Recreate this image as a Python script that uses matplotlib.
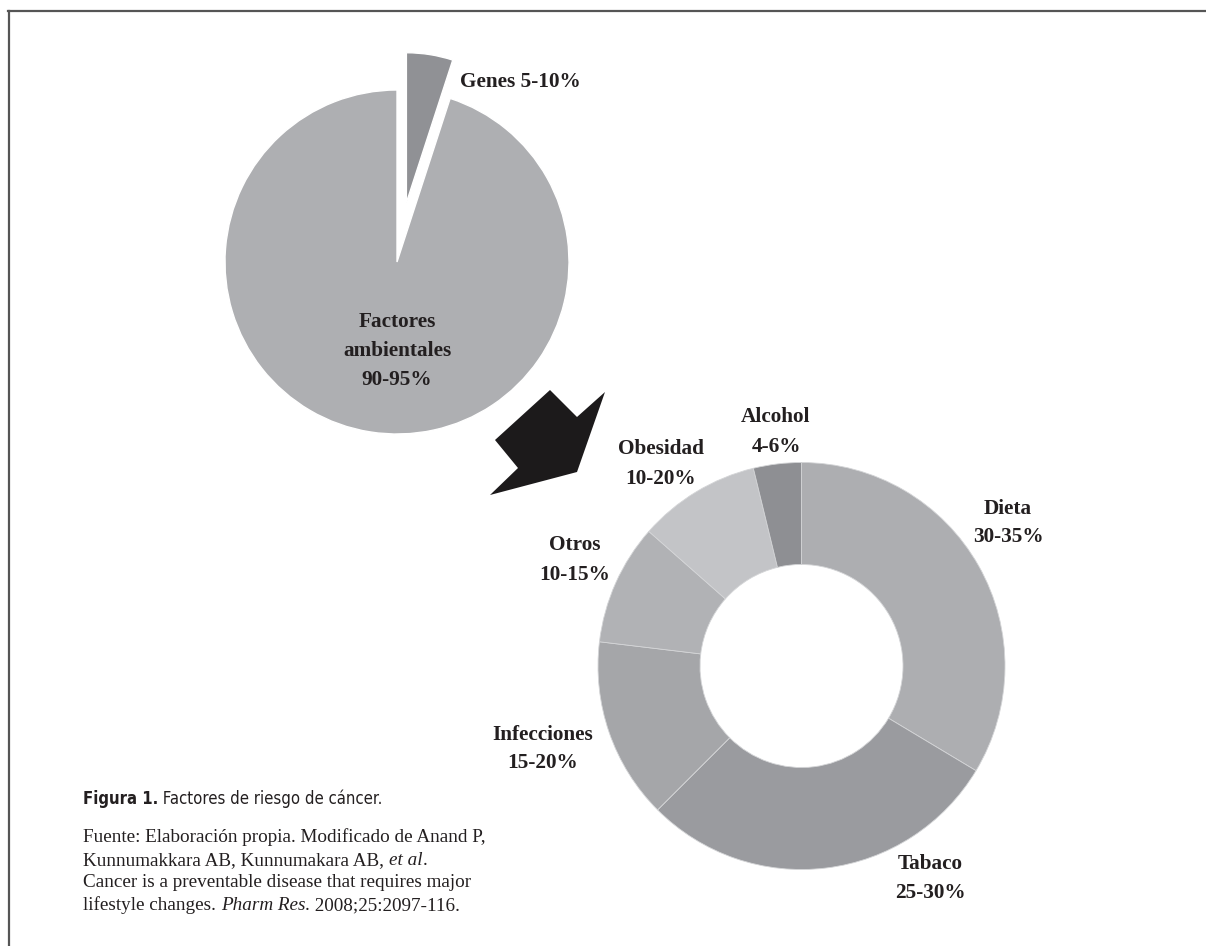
import matplotlib
matplotlib.use('Agg')
import matplotlib.pyplot as plt
from matplotlib.patches import Polygon
from matplotlib.lines import Line2D

W, H = 1206, 946

# ---- data ----
outer_labels = ['Factores\nambientales\n90-95%', 'Genes 5-10%']
outer_values = [95, 5]
outer_colors = ['#aeafb2', '#909195']

donut_labels = ['Dieta\n30-35%', 'Tabaco\n25-30%', 'Infecciones\n15-20%',
                'Otros\n10-15%', 'Obesidad\n10-20%', 'Alcohol\n4-6%']
donut_values = [33.6, 28.9, 14.4, 9.6, 9.7, 3.8]
donut_colors = ['#adaeb1', '#9a9b9f', '#a5a6a9', '#b1b2b5', '#c3c4c7', '#8e8f93']

caption_title = 'Figura 1.'
caption_text = ' Factores de riesgo de cáncer.'

fig = plt.figure(figsize=(12.06, 9.46), dpi=100)
ax = fig.add_axes([0, 0, 1, 1])


def P(x, y):
    return (x, H - y)


SERIF = ['Liberation Serif', 'DejaVu Serif']
NARROW = ['DejaVu Sans']

# ---- first pie ----
wedges, _ = ax.pie(outer_values, colors=outer_colors, startangle=90,
                   counterclock=True, center=P(397, 262), radius=172,
                   explode=[0, 60],
                   wedgeprops=dict(edgecolor='white', linewidth=1.0))
wedges[1].set_radius(150)

# ---- donut ----
ax.pie(donut_values, colors=donut_colors, startangle=90, counterclock=False,
       center=P(801.5, 666), radius=203.5,
       wedgeprops=dict(width=102, edgecolor='#d4d5d7', linewidth=0.6))

ax.set_xlim(0, W)
ax.set_ylim(0, H)
ax.set_aspect('auto')
ax.axis('off')

# ---- arrow ----
arrow = Polygon([P(550, 390), P(577, 417), P(605, 392), P(577, 472),
                 P(490, 495), P(518, 468), P(495, 440)],
                closed=True, facecolor='#1c1a1b', edgecolor='none')
ax.add_patch(arrow)

# ---- frame lines ----
ax.add_line(Line2D([8, W], [H - 11, H - 11], color='#555555', lw=1.6))
ax.add_line(Line2D([9, 9], [H - 11, 0], color='#555555', lw=1.6))

lab_kw = dict(family=SERIF, fontweight='bold', fontsize=15.3, color='#231f20',
              linespacing=1.6)

# pie labels
ax.text(*P(460, 82), outer_labels[1], ha='left', va='center', **lab_kw)
ax.text(*P(397, 351), outer_labels[0], ha='center', va='center', **lab_kw)

# donut labels
donut_pos = [(1008, 523), (930, 878), (543, 749), (575, 560), (661, 464), (776, 432)]
for lbl, (x, y) in zip(donut_labels, donut_pos):
    ax.text(*P(x, y), lbl, ha='center', va='center', **lab_kw)

# ---- caption ----
renderer = fig.canvas.get_renderer()


def rich_line(x, y, parts):
    for s, kw in parts:
        t = ax.text(*P(x, y), s, ha='left', va='baseline', color='#231f20', **kw)
        bb = t.get_window_extent(renderer)
        x = bb.x1


cap_sz = 12
rich_line(83, 804, [(caption_title, dict(family=NARROW, fontweight='bold',
                                         fontstretch='condensed', fontsize=cap_sz)),
                    (caption_text, dict(family=NARROW, fontstretch='condensed',
                                        fontsize=cap_sz))])

src_sz = 13.8
reg = dict(family=SERIF, fontsize=src_sz)
ita = dict(family=SERIF, fontsize=src_sz, style='italic')
y0 = 842
dy = 22.7
rich_line(83, y0, [('Fuente: Elaboración propia. Modificado de Anand P,', reg)])
rich_line(83, y0 + dy, [('Kunnumakkara AB, Kunnumakara AB, ', reg), ('et al', ita), ('.', reg)])
rich_line(83, y0 + 2 * dy, [('Cancer is a preventable disease that requires major', reg)])
rich_line(83, y0 + 3 * dy, [('lifestyle changes. ', reg), ('Pharm Res.', ita), (' 2008;25:2097-116.', reg)])

fig.savefig('out.png', dpi=100)
